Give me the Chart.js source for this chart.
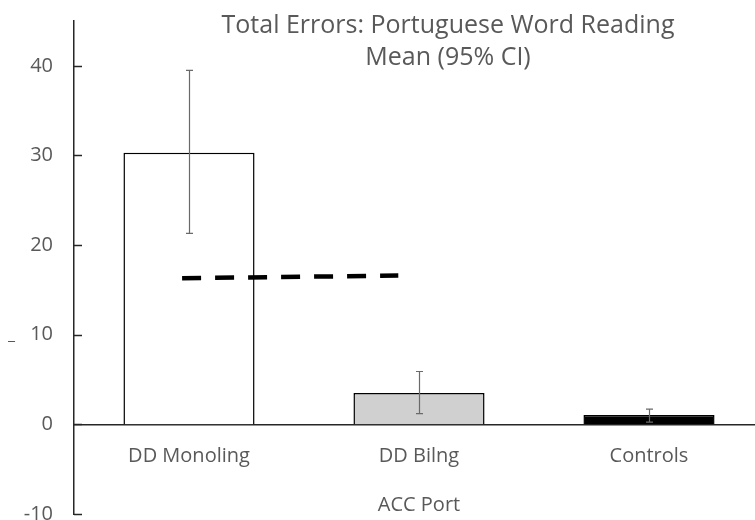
<!DOCTYPE html>
<html>
<head>
<meta charset="utf-8">
<script src="https://cdn.jsdelivr.net/npm/chart.js@4.4.1/dist/chart.umd.min.js"></script>
<style>
	html, body { margin: 0; padding: 0; background: #fff; overflow: hidden; }
	#wrap { width: 770px; height: 520px; }
</style>
</head>
<body>
<div id="wrap"><canvas id="mycanvas"></canvas></div>
<script>
var groups = ['DD Monoling', 'DD Bilng', 'Controls'];
var means = [30.3, 3.5, 1.05];
var ciLow = [21.3, 1.2, 0.25];
var ciHigh = [39.5, 5.9, 1.7];
var barFill = ['#ffffff', '#d0d0d0', '#000000'];
var dashX = [0.47, 1.41];
var dashY = [16.3, 16.6];
var yTicks = [-10, 0, 10, 20, 30, 40];

var textColor = '#595959';
var fontName = "'Open Sans', 'Noto Sans', sans-serif";

function noPad(scale) {
	scale.paddingTop = 0;
	scale.paddingBottom = 0;
	scale.paddingLeft = 0;
	scale.paddingRight = 0;
}

// error bars, inside tick marks and titles
var extras = {
	id: 'extras',
	afterDatasetsDraw: function(chart) {
		var ctx = chart.ctx;
		var y = chart.scales.y;
		var area = chart.chartArea;
		var bars = chart.getDatasetMeta(0).data;
		ctx.save();
		ctx.strokeStyle = '#6a6a6a';
		ctx.lineWidth = 1.2;
		for (var i = 0; i < bars.length; i++) {
			var x = Math.round(bars[i].x) + 0.5;
			var top = y.getPixelForValue(ciHigh[i]);
			var bot = y.getPixelForValue(ciLow[i]);
			ctx.beginPath();
			ctx.moveTo(x, top); ctx.lineTo(x, bot);
			ctx.moveTo(x - 3.5, top); ctx.lineTo(x + 3.5, top);
			ctx.moveTo(x - 3.5, bot); ctx.lineTo(x + 3.5, bot);
			ctx.stroke();
		}
		// tick marks pointing into the plot
		ctx.strokeStyle = '#262626';
		ctx.lineWidth = 1.5;
		for (var j = 0; j < yTicks.length; j++) {
			var ty = Math.round(y.getPixelForValue(yTicks[j])) + 0.5;
			ctx.beginPath();
			ctx.moveTo(area.left, ty); ctx.lineTo(area.left + 8, ty);
			ctx.stroke();
		}
		ctx.fillStyle = textColor;
		ctx.textAlign = 'center';
		ctx.textBaseline = 'alphabetic';
		ctx.font = '25px ' + fontName;
		ctx.fillText('Total Errors: Portuguese Word Reading', 448, 33);
		ctx.fillText('Mean (95% CI)', 448, 65);
		ctx.font = '20px ' + fontName;
		ctx.fillText('ACC Port', (area.left + area.right) / 2, 511);
		ctx.font = '16px ' + fontName;
		ctx.textAlign = 'left';
		ctx.fillText('_', 8, 340);
		ctx.restore();
	}
};

var ctx = document.getElementById('mycanvas');

var barGraph = new Chart(ctx, {
	type: 'bar',
	data: {
		labels: groups,
		datasets: [
			{
				label: 'Mean',
				data: means,
				backgroundColor: barFill,
				borderColor: '#000000',
				borderWidth: 1.5,
				barPercentage: 0.57,
				categoryPercentage: 1,
				grouped: false,
				order: 2
			},
			{
				type: 'line',
				label: 'dash',
				data: dashX.map(function(v, i) { return { x: v, y: dashY[i] }; }),
				xAxisID: 'x2',
				borderColor: '#000000',
				borderWidth: 4.5,
				borderDash: [19, 14],
				pointRadius: 0,
				fill: false,
				order: 1
			}
		]
	},
	options: {
		responsive: true,
		maintainAspectRatio: false,
		animation: false,
		layout: { padding: { top: 21, bottom: 6, right: 6, left: 0 } },
		plugins: {
			legend: { display: false },
			tooltip: { enabled: false }
		},
		scales: {
			x: {
				type: 'category',
				position: { y: 0 },
				offset: true,
				afterFit: function(scale) { scale.height = 0; noPad(scale); },
				grid: { display: false, drawTicks: false },
				border: { display: true, color: '#262626', width: 1.5 },
				ticks: {
					color: textColor,
					font: { family: fontName, size: 20 },
					padding: 20
				}
			},
			x2: {
				type: 'linear',
				min: 0,
				max: 3,
				offset: false,
				display: false
			},
			y: {
				min: -10,
				max: 45,
				afterBuildTicks: function(scale) {
					scale.ticks = yTicks.map(function(v) { return { value: v }; });
				},
				afterFit: function(scale) { scale.width = 74; noPad(scale); },
				grid: { display: false, drawTicks: false },
				border: { display: true, color: '#262626', width: 1.5 },
				ticks: {
					color: textColor,
					font: { family: fontName, size: 20 },
					padding: 21
				}
			}
		}
	},
	plugins: [extras]
});
</script>
</body>
</html>
